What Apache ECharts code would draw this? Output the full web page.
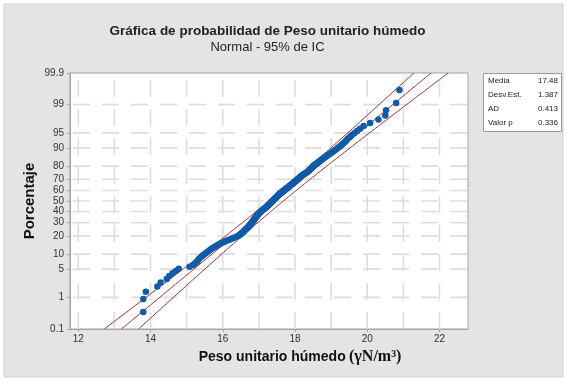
<!DOCTYPE html>
<html>
<head>
<meta charset="utf-8">
<script src="https://cdn.jsdelivr.net/npm/echarts@6/dist/echarts.min.js"></script>
<style>
  html, body { margin: 0; padding: 0; background: #ffffff; }
  #chart { width: 567px; height: 381px; }
</style>
</head>
<body>
<div id="chart"></div>
<script>
// Peso unitario húmedo, sorted sample values (kN/m3)
const pesoValues = [
  13.80, 13.80, 13.87, 14.19, 14.28, 14.45, 14.52, 14.61, 14.70, 14.78,
  15.08, 15.18, 15.24, 15.29, 15.32, 15.35, 15.40, 15.44, 15.48, 15.53,
  15.57, 15.61, 15.65, 15.69, 15.74, 15.78, 15.83, 15.87, 15.92, 15.97,
  16.03, 16.08, 16.14, 16.20, 16.26, 16.31, 16.36, 16.41, 16.45, 16.48,
  16.51, 16.53, 16.55, 16.57, 16.59, 16.61, 16.63, 16.65, 16.67, 16.69,
  16.71, 16.72, 16.74, 16.75, 16.77, 16.78, 16.80, 16.81, 16.82, 16.84,
  16.85, 16.86, 16.87, 16.88, 16.90, 16.91, 16.92, 16.93, 16.95, 16.96,
  16.97, 16.98, 17.00, 17.01, 17.03, 17.04, 17.06, 17.08, 17.10, 17.12,
  17.14, 17.16, 17.18, 17.20, 17.21, 17.23, 17.24, 17.26, 17.28, 17.29,
  17.31, 17.32, 17.34, 17.35, 17.37, 17.38, 17.40, 17.41, 17.43, 17.45,
  17.46, 17.48, 17.49, 17.51, 17.52, 17.54, 17.55, 17.57, 17.58, 17.60,
  17.62, 17.64, 17.66, 17.68, 17.70, 17.72, 17.74, 17.76, 17.78, 17.80,
  17.82, 17.84, 17.86, 17.88, 17.90, 17.92, 17.94, 17.96, 17.98, 18.00,
  18.02, 18.04, 18.06, 18.08, 18.10, 18.12, 18.14, 18.16, 18.18, 18.20,
  18.23, 18.26, 18.29, 18.32, 18.35, 18.37, 18.39, 18.41, 18.43, 18.45,
  18.47, 18.49, 18.51, 18.54, 18.57, 18.60, 18.63, 18.66, 18.69, 18.72,
  18.75, 18.79, 18.83, 18.87, 18.91, 18.95, 18.99, 19.03, 19.07, 19.11,
  19.16, 19.20, 19.25, 19.29, 19.33, 19.38, 19.42, 19.46, 19.52, 19.57,
  19.64, 19.72, 19.80, 19.90, 20.08, 20.31, 20.50, 20.52, 20.80, 20.89
];

// Fitted normal parameters and test results
const fitMean = 17.48;
const fitStdDev = 1.387;
const statLabels = ['Media', 'Desv.Est.', 'AD', 'Valor p'];
const statValues = ['17.48', '1.387', '0.413', '0.336'];

// Axis ticks
const percentTicks = [0.1, 1, 5, 10, 20, 30, 40, 50, 60, 70, 80, 90, 95, 99, 99.9];
const percentLabels = ['0.1', '1', '5', '10', '20', '30', '40', '50', '60', '70', '80', '90', '95', '99', '99.9'];
const xTickValues = [12, 14, 16, 18, 20, 22];
const xGridValues = [12, 13, 14, 15, 16, 17, 18, 19, 20, 21, 22];
const xMin = 11.77, xMax = 22.79;

// Inverse of the standard normal CDF (Acklam)
function normInv(p) {
  const a = [-3.969683028665376e+01, 2.209460984245205e+02, -2.759285104469687e+02,
             1.383577518672690e+02, -3.066479806614716e+01, 2.506628277459239e+00];
  const b = [-5.447609879822406e+01, 1.615858368580409e+02, -1.556989798598866e+02,
             6.680131188771972e+01, -1.328068155288572e+01];
  const c = [-7.784894002430293e-03, -3.223964580411365e-01, -2.400758277161838e+00,
             -2.549732539343734e+00, 4.374664141464968e+00, 2.938163982698783e+00];
  const d = [7.784695709041462e-03, 3.224671290700398e-01, 2.445134137142996e+00,
             3.754408661907416e+00];
  const pl = 0.02425;
  let q, r;
  if (p < pl) {
    q = Math.sqrt(-2 * Math.log(p));
    return (((((c[0]*q+c[1])*q+c[2])*q+c[3])*q+c[4])*q+c[5]) /
           ((((d[0]*q+d[1])*q+d[2])*q+d[3])*q+1);
  }
  if (p > 1 - pl) {
    q = Math.sqrt(-2 * Math.log(1 - p));
    return -(((((c[0]*q+c[1])*q+c[2])*q+c[3])*q+c[4])*q+c[5]) /
            ((((d[0]*q+d[1])*q+d[2])*q+d[3])*q+1);
  }
  q = p - 0.5;
  r = q * q;
  return (((((a[0]*r+a[1])*r+a[2])*r+a[3])*r+a[4])*r+a[5])*q /
         (((((b[0]*r+b[1])*r+b[2])*r+b[3])*r+b[4])*r+1);
}
const zOfPercent = pct => normInv(pct / 100);

const n = pesoValues.length;
const zMin = zOfPercent(0.1);
const zMax = zOfPercent(99.9);
const yTickValues = percentTicks.map(zOfPercent);

// Median-rank plotting positions
const points = pesoValues.map((v, i) => [v, normInv((i + 1 - 0.3) / (n + 0.4))]);

// Fitted line and 95% confidence bounds for the percentiles
const fitLine = [], lowerCI = [], upperCI = [];
for (let k = 0; k <= 120; k++) {
  const z = zMin + (zMax - zMin) * k / 120;
  const xp = fitMean + z * fitStdDev;
  const se = fitStdDev * Math.sqrt((1 + z * z / 2) / n);
  fitLine.push([xp, z]);
  lowerCI.push([xp - 1.96 * se, z]);
  upperCI.push([xp + 1.96 * se, z]);
}

const axisGray = '#a3a3a3';
const redLine = { color: '#a8302f', width: 1 };

// dashed reference grid, one segment per gridline
function gridLine(seg, offset) {
  return {
    type: 'line', data: seg, showSymbol: false, silent: true, z: 1,
    lineStyle: { color: '#dddddd', width: 1.6, type: [17, 12], dashOffset: offset }
  };
}
const gridSeries = xGridValues.map(v => gridLine([[v, zMax], [v, zMin]], -7))
  .concat(yTickValues.slice(1, -1).map(z => gridLine([[xMin, z], [xMax, z]], -3)));

const chart = echarts.init(document.getElementById('chart'), null, { renderer: 'canvas' });

chart.setOption({
  animation: false,
  backgroundColor: '#ffffff',
  grid: { show: true, backgroundColor: '#ffffff', borderColor: axisGray, borderWidth: 1,
          left: 70, right: 99, top: 73, bottom: 52 },
  xAxis: {
    type: 'value',
    min: xMin,
    max: xMax,
    axisLine: { show: true, onZero: false, lineStyle: { color: axisGray } },
    axisTick: { show: true, length: 3, customValues: xTickValues, lineStyle: { color: axisGray } },
    axisLabel: { customValues: xTickValues, margin: 5, fontFamily: 'Liberation Sans', fontSize: 10, color: '#333' },
    splitLine: { show: false }
  },
  yAxis: {
    type: 'value',
    min: zMin,
    max: zMax,
    axisLine: { show: true, onZero: false, lineStyle: { color: axisGray } },
    axisTick: { show: true, length: 3, customValues: yTickValues, lineStyle: { color: axisGray } },
    axisLabel: {
      customValues: yTickValues,
      margin: 6,
      fontFamily: 'Liberation Sans',
      fontSize: 10,
      color: '#333',
      formatter: v => {
        let best = 0;
        yTickValues.forEach((t, i) => { if (Math.abs(t - v) < Math.abs(yTickValues[best] - v)) best = i; });
        return percentLabels[best];
      }
    },
    splitLine: { show: false }
  },
  graphic: [
    { type: 'rect', z: -10, silent: true, shape: { x: 4, y: 4, width: 559, height: 373 },
      style: { fill: '#e4e4e4', stroke: '#cfcfcf', lineWidth: 1 } },
    { type: 'text', silent: true, x: 267.5, y: 31,
      style: { text: 'Gráfica de probabilidad de Peso unitario húmedo', fontFamily: 'Liberation Sans',
               fontWeight: 'bold', fontSize: 13.5, fill: '#222', align: 'center', verticalAlign: 'middle' } },
    { type: 'text', silent: true, x: 267.5, y: 47.5,
      style: { text: 'Normal - 95% de IC', fontFamily: 'Liberation Sans', fontSize: 13,
               fill: '#222', align: 'center', verticalAlign: 'middle' } },
    { type: 'text', silent: true, x: 300, y: 357,
      style: {
        text: '{a|Peso unitario húmedo} {b|(γN/m³)}',
        align: 'center', verticalAlign: 'middle',
        rich: {
          a: { fontFamily: 'Liberation Sans', fontWeight: 'bold', fontSize: 14, fill: '#111' },
          b: { fontFamily: 'Liberation Serif', fontWeight: 'bold', fontSize: 16, fill: '#111' }
        }
      } },
    { type: 'text', silent: true, x: 29.5, y: 201, rotation: Math.PI / 2,
      style: { text: 'Porcentaje', fontFamily: 'Liberation Sans', fontWeight: 'bold', fontSize: 15,
               fill: '#111', align: 'center', verticalAlign: 'middle' } },
    { type: 'rect', silent: true, shape: { x: 483.5, y: 73.5, width: 78, height: 58 },
      style: { fill: '#ffffff', stroke: '#9a9a9a', lineWidth: 1 } }
  ].concat(statLabels.map((s, i) => ({
    type: 'text', silent: true, x: 488, y: 81 + i * 13.8,
    style: { text: s, fontFamily: 'Liberation Sans', fontSize: 8, fill: '#222', align: 'left', verticalAlign: 'middle' }
  }))).concat(statValues.map((s, i) => ({
    type: 'text', silent: true, x: 558, y: 81 + i * 13.8,
    style: { text: s, fontFamily: 'Liberation Sans', fontSize: 8, fill: '#222', align: 'right', verticalAlign: 'middle' }
  }))),
  series: gridSeries.concat([
    { type: 'line', data: lowerCI, showSymbol: false, lineStyle: redLine, z: 2, silent: true },
    { type: 'line', data: fitLine, showSymbol: false, lineStyle: redLine, z: 2, silent: true },
    { type: 'line', data: upperCI, showSymbol: false, lineStyle: redLine, z: 2, silent: true },
    {
      type: 'scatter',
      data: points,
      symbol: 'circle',
      symbolSize: 6.5,
      itemStyle: { color: '#0f5ba8', opacity: 1 },
      z: 3
    }
  ])
});
</script>
</body>
</html>
